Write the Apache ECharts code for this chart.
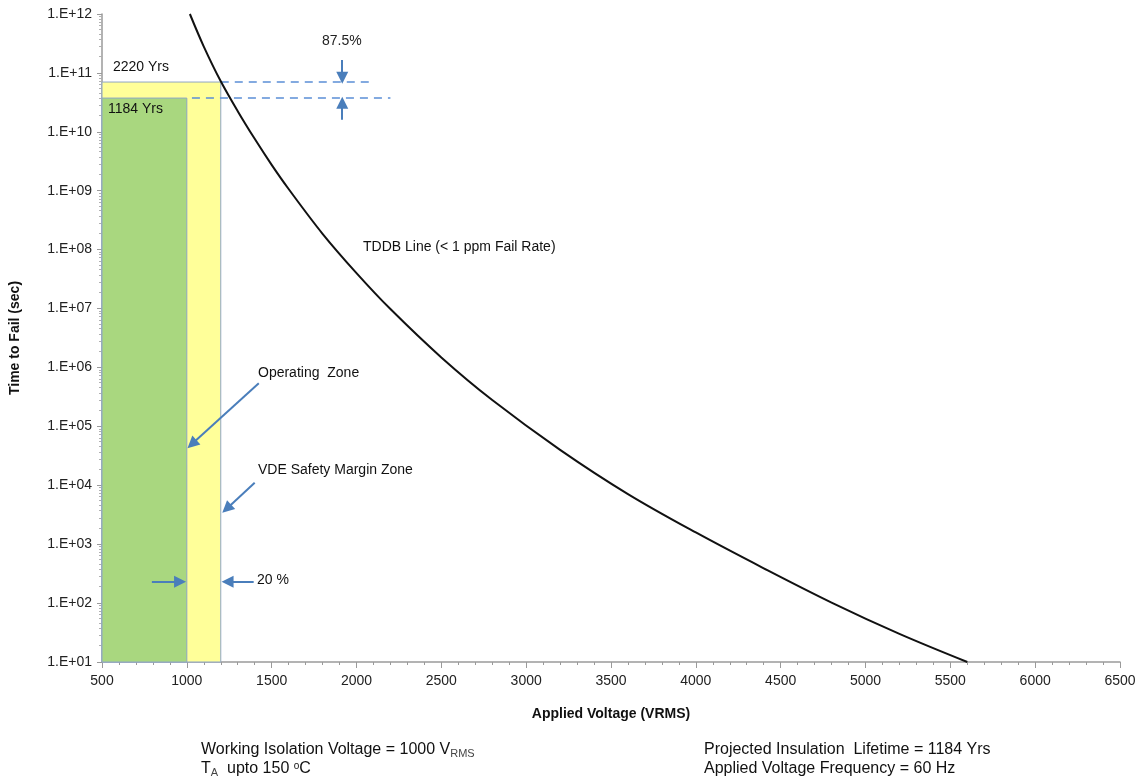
<!DOCTYPE html>
<html><head><meta charset="utf-8">
<script src="https://cdn.jsdelivr.net/npm/echarts@6/dist/echarts.min.js"></script>
<style>html,body{margin:0;padding:0;background:#fff}#c{width:1143px;height:784px}</style>
</head><body><div id="c"></div>
<script>
// TDDB line: applied voltage (VRMS) vs time to fail (sec)
const voltage    = [1018, 1100, 1200, 1300, 1400, 1500, 1600, 1800, 2000, 2200, 2500, 2800, 3200, 3600, 4000, 4400, 4800, 5200, 5600];
const timeToFail = [1.0e12, 2.8e11, 7.2e10, 2.24e10, 7.6e9, 2.75e9, 1.07e9, 1.86e8, 4.0e7, 9.8e6, 1.48e6, 2.8e5, 4.0e4, 7.1e3, 1.58e3, 3.9e2, 1.02e2, 3.0e1, 1.0e1];
// zones
const zoneVolts   = [500, 1000, 1200];      // start, operating limit, VDE margin limit
const zoneLife    = [3.74e10, 7.0e10];       // 1184 Yrs, 2220 Yrs (sec)
const zoneLabels  = ['1184 Yrs', '2220 Yrs'];
const xTicks = {min: 500, max: 6500, interval: 500};
const yTicks = {min: 1e1, max: 1e12};

const fmtY = v => { const e = Math.round(Math.log10(v)); return '1.E+' + (e < 10 ? '0' + e : e); };
const arrowColor = '#4a7ebb';
const FONT = 'Liberation Sans, Arial, sans-serif';

function seg(a, b) { return [{coord: a}, {coord: b}]; }

const chart = echarts.init(document.getElementById('c'), null, {renderer: 'canvas'});
chart.setOption({
  animation: false,
  backgroundColor: '#fff',
  textStyle: {fontFamily: FONT},
  grid: {left: 100, right: 23, top: 14, bottom: 122},
  xAxis: {
    type: 'value', min: xTicks.min, max: xTicks.max, interval: xTicks.interval,
    name: 'Applied Voltage (VRMS)', nameLocation: 'middle', nameGap: 45,
    nameTextStyle: {fontWeight: 'bold', fontSize: 14, color: '#111', fontFamily: FONT},
    axisLine: {lineStyle: {color: '#9a9a9a', width: 1.5}},
    axisTick: {show: true, length: 6, lineStyle: {color: '#9a9a9a'}},
    minorTick: {show: true, splitNumber: 5, length: 3, lineStyle: {color: '#9a9a9a'}},
    axisLabel: {fontSize: 14, color: '#222', margin: 12, fontFamily: FONT, formatter: v => String(v)},
    splitLine: {show: false}
  },
  yAxis: {
    type: 'log', logBase: 10, min: yTicks.min, max: yTicks.max, interval: 1,
    name: 'Time to Fail (sec)', nameLocation: 'middle', nameGap: 80,
    nameTextStyle: {fontWeight: 'bold', fontSize: 14, color: '#111', fontFamily: FONT},
    axisLine: {show: true, lineStyle: {color: '#9a9a9a', width: 1.5}},
    axisTick: {show: true, length: 5, lineStyle: {color: '#9a9a9a'}},
    minorTick: {show: true, splitNumber: 10, length: 3, lineStyle: {color: '#b0b0b0'}},
    axisLabel: {fontSize: 14, color: '#222', margin: 10, formatter: fmtY, fontFamily: FONT},
    splitLine: {show: false}
  },
  series: [
    { // VDE safety margin zone
      type: 'line', data: [], silent: true,
      markArea: {silent: true,
        itemStyle: {color: '#ffff99', borderColor: '#8fa6c6', borderWidth: 1},
        data: [[{coord: [zoneVolts[0], yTicks.min]}, {coord: [zoneVolts[2], zoneLife[1]]}]]}
    },
    { // operating zone
      type: 'line', data: [], silent: true,
      markArea: {silent: true,
        itemStyle: {color: '#a9d77f', borderColor: '#8fa6c6', borderWidth: 1},
        data: [[{coord: [zoneVolts[0], yTicks.min]}, {coord: [zoneVolts[1], zoneLife[0]]}]]}
    },
    { // TDDB line
      type: 'line', data: voltage.map((v, i) => [v, timeToFail[i]]),
      smooth: 0.35, showSymbol: false, z: 5,
      lineStyle: {color: '#111', width: 2}
    },
    { // dashed lifetime lines
      type: 'line', data: [], silent: true,
      markLine: {silent: true, symbol: ['none', 'none'], label: {show: false},
        lineStyle: {color: '#5b8ed6', width: 1.5, type: [8, 6]},
        data: [seg([zoneVolts[2], zoneLife[1]], [2090, zoneLife[1]]),
               seg([1030, zoneLife[0]], [2200, zoneLife[0]])]}
    },
    { // annotation arrows
      type: 'line', data: [], silent: true,
      markLine: {silent: true, symbol: ['none', 'triangle'], symbolSize: [12, 12], label: {show: false},
        lineStyle: {color: arrowColor, width: 2, type: 'solid'},
        data: [seg([1916, 1.65e11], [1916, 8.3e10]),
               seg([1916, 1.6e10], [1916, 3.1e10]),
               seg([794, 2.3e2], [960, 2.3e2]),
               seg([1394, 2.3e2], [1240, 2.3e2]),
               seg([1424, 5.4e5], [1030, 5.0e4]),
               seg([1400, 1.1e4], [1235, 4.0e3])]}
    }
  ],
  graphic: [
    {type: 'text', z: 100, left: 113, top: 60, style: {text: zoneLabels[1], font: '14px ' + FONT, fill: '#111'}},
    {type: 'text', z: 100, left: 108, top: 102, style: {text: zoneLabels[0], font: '14px ' + FONT, fill: '#111'}},
    {type: 'text', z: 100, left: 322, top: 34, style: {text: '87.5%', font: '14px ' + FONT, fill: '#222'}},
    {type: 'text', z: 100, left: 363, top: 240, style: {text: 'TDDB Line (< 1 ppm Fail Rate)', font: '14px ' + FONT, fill: '#111'}},
    {type: 'text', z: 100, left: 258, top: 366, style: {text: 'Operating  Zone', font: '14px ' + FONT, fill: '#111'}},
    {type: 'text', z: 100, left: 258, top: 463, style: {text: 'VDE Safety Margin Zone', font: '14px ' + FONT, fill: '#111'}},
    {type: 'text', z: 100, left: 257, top: 573, style: {text: '20 %', font: '14px ' + FONT, fill: '#111'}},
    {type: 'text', z: 100, left: 201, top: 742, style: {
      text: 'Working Isolation Voltage = 1000 V{sub|RMS}',
      font: '16px ' + FONT, fill: '#111',
      rich: {sub: {fontSize: 11, fontFamily: FONT, fill: '#444', padding: [8, 0, 0, 0]}}}},
    {type: 'text', z: 100, left: 201, top: 761, style: {
      text: 'T{sub|A}  upto 150 {sup|o}C',
      font: '16px ' + FONT, fill: '#111',
      rich: {sub: {fontSize: 11, fontFamily: FONT, fill: '#444', padding: [8, 0, 0, 0]},
             sup: {fontSize: 10, fontFamily: FONT, fill: '#111', padding: [0, 0, 6, 0]}}}},
    {type: 'text', z: 100, left: 704, top: 742, style: {text: 'Projected Insulation  Lifetime = 1184 Yrs', font: '16px ' + FONT, fill: '#111'}},
    {type: 'text', z: 100, left: 704, top: 761, style: {text: 'Applied Voltage Frequency = 60 Hz', font: '16px ' + FONT, fill: '#111'}}
  ]
});
</script></body></html>
